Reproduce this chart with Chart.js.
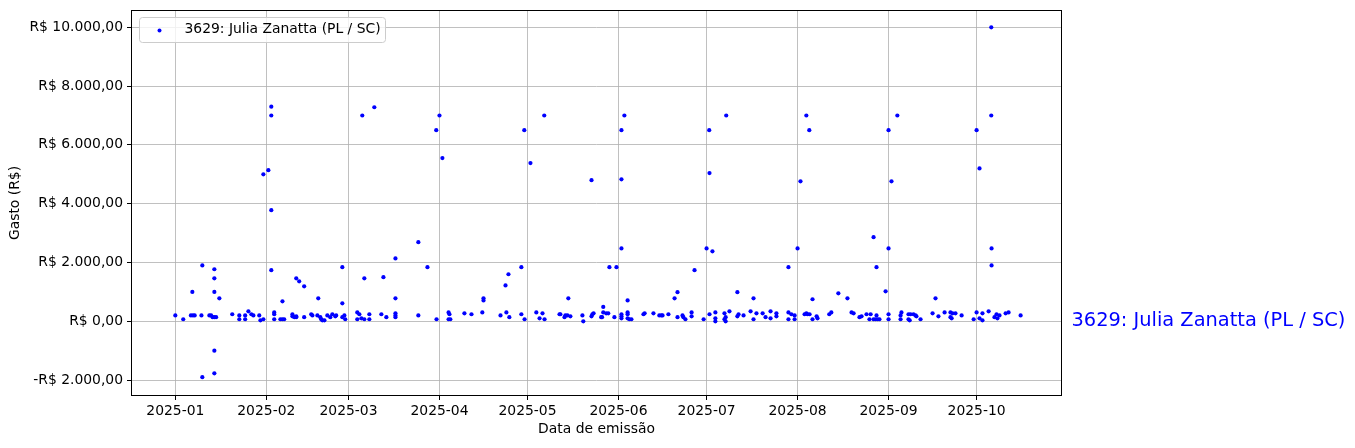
<!DOCTYPE html>
<html>
<head>
<meta charset="utf-8">
<script src="https://cdn.jsdelivr.net/npm/chart.js@4"></script>
<style>
  body { margin: 0; background: #fff; }
  canvas { display: block; }
</style>
</head>
<body>
<canvas id="grafico" width="1355" height="448"></canvas>
<script>
// dias contados a partir de 2025-01-01
const diasEmissao = [
  0.0, 2.7, 5.3, 5.8, 6.0, 6.6, 8.9, 9.2, 9.2, 11.6,
  12.2, 12.7, 13.3, 13.9, 13.3, 13.3, 13.3, 13.3, 13.3, 15.0,
  19.4, 21.8, 21.8, 23.8, 23.8, 24.9, 25.9, 26.6, 28.6, 29.0,
  30.0, 30.0, 31.7, 32.7, 32.7, 32.7, 32.7, 33.7, 33.7, 33.7,
  35.8, 36.5, 37.1, 36.5, 39.9, 39.9, 40.6, 41.2, 41.2, 41.2,
  42.2, 43.9, 43.9, 46.3, 46.7, 48.4, 48.7, 49.4, 49.7, 50.1,
  50.8, 51.8, 52.8, 53.5, 54.5, 54.8, 56.9, 56.9, 56.9, 57.6,
  57.9, 62.0, 62.0, 62.7, 63.4, 63.7, 64.4, 64.4, 66.1, 66.1,
  67.8, 70.2, 70.9, 71.9, 75.0, 75.0, 75.0, 75.0, 75.0, 82.8,
  82.8, 85.9, 88.9, 89.0, 90.0, 91.0, 93.1, 93.4, 93.1, 93.7,
  98.5, 100.9, 104.6, 105.0, 105.0, 110.8, 112.5, 112.8, 113.5, 113.8,
  117.9, 117.9, 118.9, 119.0, 121.0, 123.0, 124.1, 125.1, 125.7, 125.8,
  130.9, 131.2, 132.6, 132.9, 133.6, 133.9, 134.6, 138.7, 139.0, 141.8,
  141.8, 142.1, 142.5, 145.1, 145.4, 145.8, 145.8, 146.8, 147.5, 147.9,
  149.6, 150.3, 152.0, 152.0, 152.0, 152.0, 152.0, 152.0, 153.0, 154.1,
  154.1, 154.1, 154.1, 154.7, 155.4, 159.5, 159.9, 162.9, 164.9, 165.6,
  166.0, 168.0, 170.1, 171.1, 171.1, 172.8, 173.1, 173.8, 175.9, 175.9,
  176.9, 180.0, 181.0, 181.9, 182.0, 182.0, 183.0, 184.0, 184.0, 184.0,
  187.1, 187.1, 187.5, 187.5, 187.7, 188.8, 191.5, 191.5, 191.9, 193.6,
  196.0, 197.0, 197.0, 198.0, 200.1, 201.1, 202.8, 202.8, 204.8, 204.8,
  208.9, 208.9, 208.9, 209.9, 211.0, 211.0, 212.0, 213.0, 214.4, 215.0,
  215.0, 215.4, 216.0, 216.1, 217.1, 217.1, 218.5, 218.8, 222.8, 223.5,
  225.9, 229.0, 230.4, 231.1, 233.1, 233.8, 235.5, 236.5, 236.9, 237.9,
  237.9, 238.6, 238.9, 238.9, 239.3, 239.9, 242.0, 243.0, 243.0, 243.0,
  243.0, 244.0, 246.0, 247.1, 247.1, 247.4, 249.8, 249.8, 250.2, 250.5,
  251.5, 252.2, 252.5, 253.9, 258.0, 259.0, 260.0, 262.1, 264.1, 264.1,
  264.5, 264.8, 265.8, 267.9, 272.0, 273.0, 273.0, 274.0, 274.0, 275.0,
  275.0, 277.1, 278.0, 278.0, 278.1, 278.1, 279.1, 279.8, 280.1, 280.8,
  282.9, 283.9, 288.0
];
const gastos = [
  200, 70, 200, 1000, 200, 200, 200, 1900, -1900, 200,
  200, 140, 140, 140, 1770, 1460, 1000, -1000, -1770, 780,
  240, 200, 70, 200, 70, 340, 240, 200, 200, 34,
  70, 5000, 5140, 3780, 1740, 7300, 7000, 300, 240, 70,
  70, 70, 70, 680, 240, 170, 140, 170, 140, 1460,
  1360, 1190, 140, 240, 200, 200, 780, 140, 70, 34,
  34, 200, 140, 240, 170, 200, 1840, 610, 140, 200,
  70, 300, 70, 240, 100, 7000, 70, 1460, 240, 70,
  7280, 240, 1500, 140, 780, 2140, 270, 200, 140, 2690,
  200, 1840, 6500, 70, 7000, 5550, 300, 240, 70, 70,
  270, 240, 300, 780, 710, 200, 1220, 300, 1600, 140,
  1840, 240, 6500, 70, 5380, 300, 100, 270, 7000, 70,
  240, 240, 140, 200, 200, 780, 170, 200, 0, 170,
  4800, 240, 270, 140, 140, 300, 490, 270, 270, 1840,
  140, 1840, 4830, 2480, 6500, 240, 170, 100, 7000, 710,
  300, 240, 100, 70, 70, 240, 270, 270, 200, 200,
  200, 240, 780, 990, 140, 200, 140, 70, 300, 170,
  1740, 70, 2480, 6500, 5040, 240, 2380, 300, 100, 0,
  270, 70, 140, 0, 7000, 340, 990, 170, 240, 200,
  340, 780, 70, 270, 270, 140, 340, 100, 270, 170,
  1840, 300, 70, 240, 200, 70, 2480, 4760, 240, 270,
  7000, 240, 6500, 240, 750, 70, 170, 100, 240, 300,
  950, 780, 300, 270, 140, 170, 240, 70, 240, 70,
  2860, 70, 200, 1840, 70, 70, 1020, 2480, 240, 70,
  6500, 4760, 7000, 200, 70, 300, 240, 70, 34, 240,
  240, 200, 170, 70, 270, 780, 170, 300, 300, 140,
  100, 270, 270, 200, 70, 300, 6500, 5200, 100, 34,
  270, 340, 10000, 7000, 2480, 1900, 140, 240, 100, 200,
  270, 300, 200
];

const inicioMeses = [0, 31, 59, 90, 120, 151, 181, 212, 243, 273];
const rotulosMeses = ["2025-01", "2025-02", "2025-03", "2025-04", "2025-05",
                      "2025-06", "2025-07", "2025-08", "2025-09", "2025-10"];
const valoresY = [-2000, 0, 2000, 4000, 6000, 8000, 10000];
const rotulosY = ["-R$ 2.000,00", "R$ 0,00", "R$ 2.000,00", "R$ 4.000,00",
                  "R$ 6.000,00", "R$ 8.000,00", "R$ 10.000,00"];
const nomeSerie = "3629: Julia Zanatta (PL / SC)";

const pontos = diasEmissao.map((d, i) => ({ x: d, y: gastos[i] }));

Chart.defaults.font.family = "DejaVu Sans";
Chart.defaults.font.size = 13.9;
Chart.defaults.color = "#000";

// legenda e rótulo lateral desenhados à mão, no estilo do matplotlib
const extras = {
  id: "extras",
  afterDraw(chart) {
    const { ctx, chartArea: a, scales } = chart;
    ctx.save();
    ctx.strokeStyle = "#000";
    ctx.lineWidth = 1;
    ctx.strokeRect(a.left + 0.5, a.top + 0.5, a.right - a.left - 1, a.bottom - a.top - 1);

    const lx = a.left + 8.5, ly = a.top + 7.5, lw = 246, lh = 25;
    ctx.beginPath();
    ctx.roundRect(lx, ly, lw, lh, 3);
    ctx.fillStyle = "rgba(255,255,255,0.8)";
    ctx.fill();
    ctx.strokeStyle = "#cccccc";
    ctx.stroke();
    ctx.fillStyle = "blue";
    ctx.beginPath();
    ctx.arc(lx + 20, ly + 13, 2, 0, Math.PI * 2);
    ctx.fill();
    ctx.fillStyle = "#000";
    ctx.font = "13.9px 'DejaVu Sans'";
    ctx.textBaseline = "middle";
    ctx.fillText(nomeSerie, lx + 45, ly + 12);

    ctx.fillStyle = "blue";
    ctx.font = "19.4px 'DejaVu Sans'";
    ctx.fillText(nomeSerie, a.right + 9.5, scales.y.getPixelForValue(0));
    ctx.restore();
  }
};

new Chart(document.getElementById("grafico").getContext("2d"), {
  type: "scatter",
  data: {
    datasets: [{
      label: nomeSerie,
      data: pontos,
      backgroundColor: "blue",
      borderWidth: 0,
      pointRadius: 2.1,
      pointHoverRadius: 2.1
    }]
  },
  options: {
    responsive: false,
    animation: false,
    layout: { padding: { left: 0, top: 10, right: 293, bottom: 0 } },
    plugins: { legend: { display: false }, tooltip: { enabled: false } },
    scales: {
      x: {
        type: "linear",
        min: -15.1,
        max: 302.1,
        z: 1,
        afterFit(s) { s.height = 52; s.paddingLeft = 0; s.paddingRight = 0; },
        afterBuildTicks(s) { s.ticks = inicioMeses.map(v => ({ value: v })); },
        ticks: {
          autoSkip: false,
          maxRotation: 0,
          padding: 3,
          callback: (v) => rotulosMeses[inicioMeses.indexOf(v)]
        },
        grid: { color: "#b0b0b0", lineWidth: 0.8, tickColor: "#000", tickLength: 4, tickWidth: 1 },
        border: { display: false },
        title: { display: true, text: "Data de emissão", padding: { top: 0, bottom: 10 } }
      },
      y: {
        type: "linear",
        min: -2541,
        max: 10588,
        z: 1,
        afterFit(s) { s.width = 131; s.paddingTop = 0; s.paddingBottom = 0; },
        afterBuildTicks(s) { s.ticks = valoresY.map(v => ({ value: v })); },
        ticks: {
          autoSkip: false,
          padding: 4,
          callback: (v) => rotulosY[valoresY.indexOf(v)]
        },
        grid: { color: "#b0b0b0", lineWidth: 0.8, tickColor: "#000", tickLength: 4, tickWidth: 1 },
        border: { display: false },
        title: { display: true, text: "Gasto (R$)", padding: { top: 7, bottom: 0 } }
      }
    }
  },
  plugins: [extras]
});
</script>
</body>
</html>
